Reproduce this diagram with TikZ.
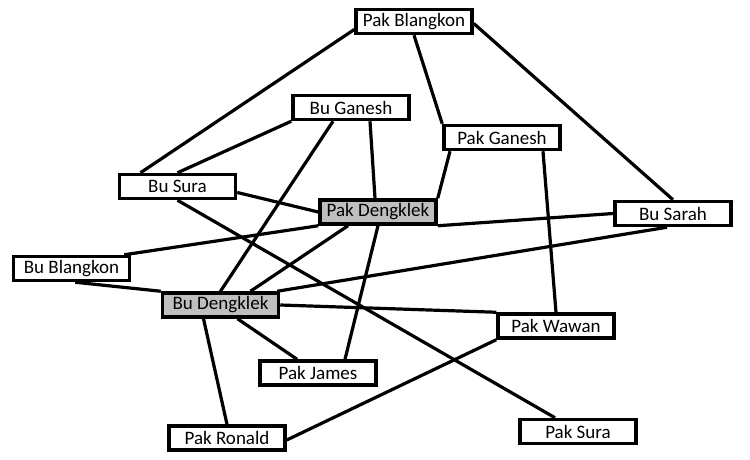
\documentclass[tikz,border=0pt]{standalone}
\usepackage{fontspec}
\setmainfont{Carlito}
\usetikzlibrary{shapes,arrows,backgrounds}
\tikzstyle{person} = [rectangle, draw, line width=3.5pt, fill=white,
    minimum width=116pt, minimum height=24pt, inner sep=0pt,
    font=\fontsize{19}{22}\selectfont]
\tikzstyle{host} = [person, fill=black!25]
\tikzstyle{line} = [draw, line width=3.2pt]

\begin{document}
\begin{tikzpicture}[x=1pt, y=-1pt]
        \useasboundingbox (0,0) rectangle (750,460);

        % Place nodes
        \node [person] (pblangkon) at (414,21.5) {Pak Blangkon};
        \node [person] (bganesh) at (351,107.5) {Bu Ganesh};
        \node [person] (pganesh) at (502,137.5) {Pak Ganesh};
        \node [person] (bsura) at (177.5,186.5) {Bu Sura};
        \node [host] (pdengklek) at (378,212) {Pak Dengklek};
        \node [person] (bsarah) at (673,213.5) {Bu Sarah};
        \node [person] (bblangkon) at (71.5,268.5) {Bu Blangkon};
        \node [host] (bdengklek) at (220.5,305) {Bu Dengklek};
        \node [person] (pwawan) at (556,326) {Pak Wawan};
        \node [person] (pjames) at (318,373) {Pak James};
        \node [person] (pronald) at (227,438) {Pak Ronald};
        \node [person] (psura) at (578,431.5) {Pak Sura};

        % Draw edges
        \begin{pgfonlayer}{background}
        \path [line] ([yshift=-8pt]pblangkon.west) -- ([xshift=-37pt]bsura.north);
        \path [line] (pblangkon.south) -- (pganesh.north west);
        \path [line] ([yshift=-2pt]pblangkon.east) -- (bsarah.north);
        \path [line] (bganesh.south west) -- (bsura.north);
        \path [line] ([xshift=19pt]bganesh.south) -- ([xshift=-3pt]pdengklek.north);
        \path [line] ([xshift=-18pt]bganesh.south) -- (bdengklek.north);
        \path [line] ([xshift=-52pt]pganesh.south) -- (pdengklek.north east);
        \path [line] ([xshift=41pt]pganesh.south) -- (pwawan.north);
        \path [line] ([yshift=-6pt]bsura.east) -- (pdengklek.west);
        \path [line] (bsura.south) -- ([xshift=-23pt]psura.north);
        \path [line] ([xshift=-7pt]bblangkon.north east) -- (pdengklek.south west);
        \path [line] (pdengklek.south east) -- (bsarah.west);
        \path [line] ([xshift=-30pt]pdengklek.south) -- ([xshift=30pt]bdengklek.north);
        \path [line] (pdengklek.south) -- ([xshift=27pt]pjames.north);
        \path [line] ([xshift=-3pt]bdengklek.north east) -- ([xshift=-6pt]bsarah.south);
        \path [line] ([xshift=-56pt]bblangkon.south east) -- (bdengklek.north west);
        \path [line] (bdengklek.east) -- (pwawan.north west);
        \path [line] ([xshift=17pt]bdengklek.south) -- ([xshift=-21pt]pjames.north);
        \path [line] ([xshift=-17pt]bdengklek.south) -- (pronald.north);
        \path [line] (pwawan.south west) -- ([yshift=-2pt]pronald.east);
        \end{pgfonlayer}

    \end{tikzpicture}
\end{document}
